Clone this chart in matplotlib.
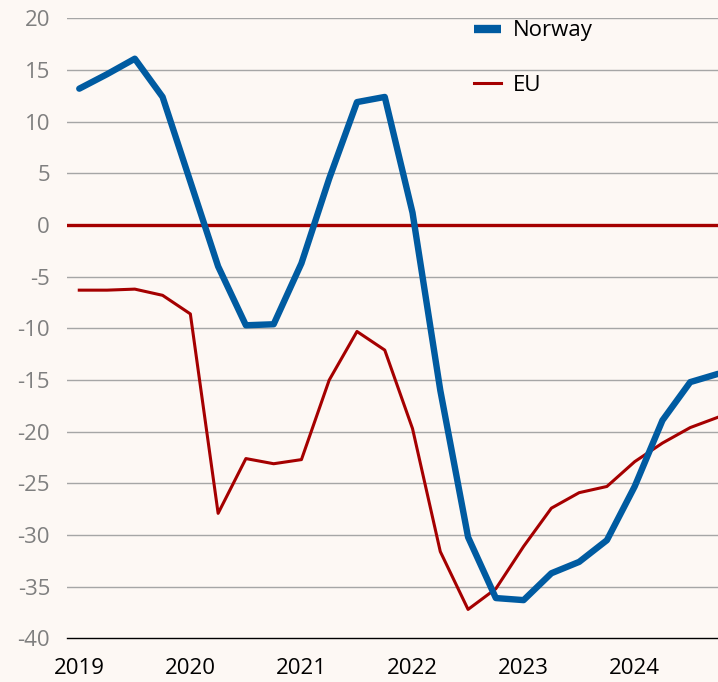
import numpy as np
import matplotlib.pyplot as plt

plt.rcParams['font.family'] = ['Open Sans', 'DejaVu Sans']
plt.rcParams['axes.unicode_minus'] = False

# quarterly, 2019Q1 - 2024Q4
quarters = np.arange(24)
norway = [13.2, 14.6, 16.1, 12.4, 4.2, -4.0, -9.7, -9.6,
          -3.7, 4.5, 11.9, 12.4, 1.2, -16.0, -30.2, -36.1,
          -36.3, -33.7, -32.6, -30.5, -25.3, -18.9, -15.2, -14.4]
eu = [-6.3, -6.3, -6.2, -6.8, -8.6, -27.9, -22.6, -23.1,
      -22.7, -15.0, -10.3, -12.1, -19.7, -31.6, -37.2, -35.2,
      -31.1, -27.4, -25.9, -25.3, -22.9, -21.1, -19.6, -18.6]
year_pos = [0, 4, 8, 12, 16, 20]
year_labels = ['2019', '2020', '2021', '2022', '2023', '2024']

bg = '#FDF8F4'
fig = plt.figure(figsize=(7.18, 6.82), dpi=100, facecolor=bg)
ax = fig.add_axes([0.093, 0.064, 0.907, 0.909], facecolor=bg)

for v in range(-35, 25, 5):
    if v != 0:
        ax.axhline(v, color='#A6A6A6', lw=1.0, zorder=1)
ax.axhline(0, color='#A50000', lw=2.4, zorder=2)

ax.plot(quarters, norway, color='#005BA1', lw=4.6, label='Norway',
        solid_capstyle='round', zorder=4)
ax.plot(quarters, eu, color='#A50000', lw=2.2, label='EU', zorder=3)

ax.set_xlim(-0.45, 23)
ax.set_ylim(-40, 20)
ax.set_yticks(range(-40, 25, 5))
ax.set_xticks(year_pos)
ax.set_xticklabels(year_labels)
ax.tick_params(axis='y', length=0, labelsize=16, labelcolor='#7F7F7F', pad=12)
ax.tick_params(axis='x', length=0, labelsize=16, labelcolor='black', pad=14)

for s in ['top', 'right', 'left']:
    ax.spines[s].set_visible(False)
ax.spines['bottom'].set_color('black')
ax.spines['bottom'].set_linewidth(1.0)

leg = ax.legend(loc='upper left', bbox_to_anchor=(0.594, 1.029), frameon=False,
                fontsize=16, handlelength=1.25, handletextpad=0.5,
                labelspacing=1.5)
leg.get_lines()[0].set_linewidth(6)
leg.get_lines()[0].set_solid_capstyle('butt')

fig.savefig('out.png', dpi=100, facecolor=bg)
